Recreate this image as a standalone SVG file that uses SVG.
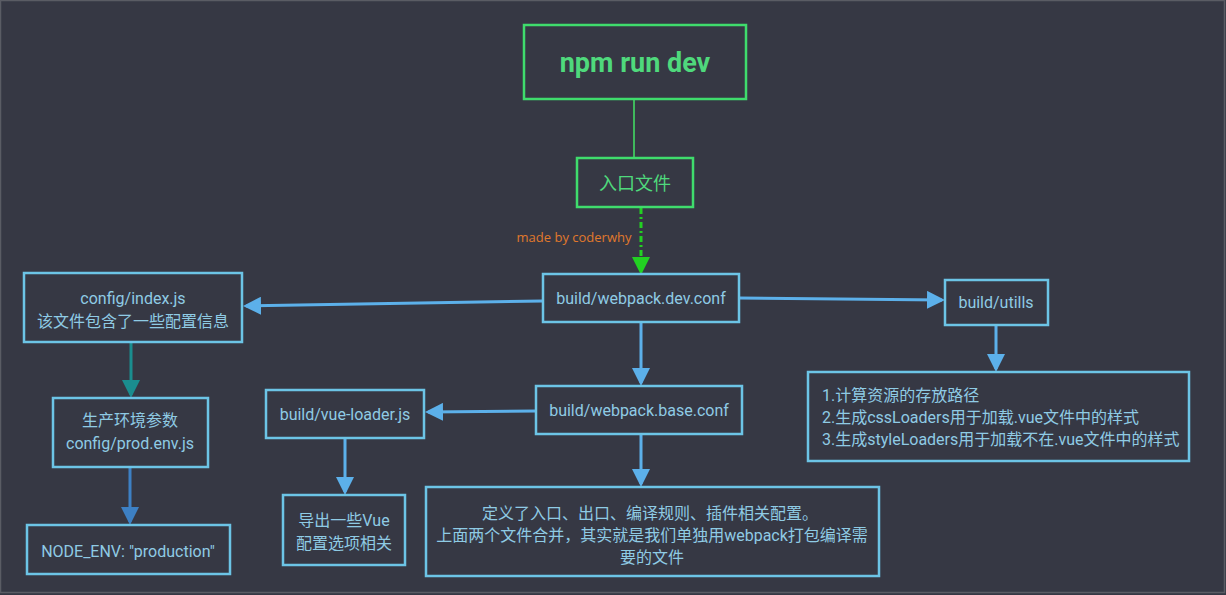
<svg xmlns="http://www.w3.org/2000/svg" width="1226" height="595" viewBox="0 0 1226 595">
<defs>
<style>
.box{fill:none;stroke:#6cc4e6;stroke-width:2.5}
.gbox{fill:none;stroke:#3fdc6c;stroke-width:2.5}
.t{font-family:Roboto,"Noto Sans CJK SC",sans-serif;font-size:16px;fill:#8fcbe4;text-anchor:middle}
.tl{font-family:Roboto,"Noto Sans CJK SC",sans-serif;font-size:16px;fill:#8fcbe4}
.a{fill:none;stroke:#5cb0ea;stroke-width:3}
</style>
<marker id="ah" markerWidth="6" markerHeight="6" refX="5" refY="3" orient="auto" markerUnits="strokeWidth">
<path d="M0,0 L6,3 L0,6 z" fill="#5cb0ea"/>
</marker>
<marker id="aht" markerWidth="6" markerHeight="6" refX="5" refY="3" orient="auto" markerUnits="strokeWidth">
<path d="M0,0 L6,3 L0,6 z" fill="#1a8d8f"/>
</marker>
<marker id="ahb" markerWidth="6" markerHeight="6" refX="5" refY="3" orient="auto" markerUnits="strokeWidth">
<path d="M0,0 L6,3 L0,6 z" fill="#3d80c4"/>
</marker>
<marker id="ahg" markerWidth="6" markerHeight="6" refX="5" refY="3" orient="auto" markerUnits="strokeWidth">
<path d="M0,0 L6,3 L0,6 z" fill="#22d022"/>
</marker>
</defs>
<rect x="0" y="0" width="1226" height="595" fill="#363844"/>
<rect x="0.5" y="0.5" width="1224" height="592" fill="none" stroke="#5a5c64" stroke-width="1.5"/>

<g id="connectors">
<line x1="634" y1="100" x2="634" y2="158" stroke="#3fb85c" stroke-width="2"/>
<line x1="641" y1="208" x2="641" y2="272" stroke="#22d022" stroke-width="3" stroke-dasharray="6,3,2,3" marker-end="url(#ahg)"/>
<line x1="543" y1="301" x2="246" y2="306" class="a" marker-end="url(#ah)"/>
<line x1="739" y1="298" x2="942" y2="300" class="a" marker-end="url(#ah)"/>
<line x1="996" y1="326" x2="996" y2="369" class="a" marker-end="url(#ah)"/>
<line x1="641" y1="323" x2="641" y2="383" class="a" marker-end="url(#ah)"/>
<line x1="536" y1="411" x2="428" y2="412" class="a" marker-end="url(#ah)"/>
<line x1="345" y1="439" x2="345" y2="492" class="a" marker-end="url(#ah)"/>
<line x1="641" y1="435" x2="641" y2="484" class="a" marker-end="url(#ah)"/>
<line x1="131" y1="343" x2="131" y2="395" stroke="#1a8d8f" stroke-width="3" fill="none" marker-end="url(#aht)"/>
<line x1="130" y1="468" x2="130" y2="522" stroke="#3d80c4" stroke-width="3" fill="none" marker-end="url(#ahb)"/>
</g>

<g id="npm">
<rect x="524" y="25" width="222" height="74" class="gbox" stroke-width="3"/>
<text x="635" y="72" font-family="Roboto,'Noto Sans',sans-serif" font-size="27" font-weight="bold" fill="#4fd97c" text-anchor="middle">npm run dev</text>
</g>
<g id="entry">
<rect x="577" y="158" width="116" height="49" class="gbox"/>
<text x="635" y="190" font-family="'Noto Sans CJK SC',sans-serif" font-size="18" fill="#4fd97c" text-anchor="middle">入口文件</text>
</g>
<g id="watermark">
<text x="574" y="242" font-family="'Open Sans',Roboto,sans-serif" font-size="13" fill="#e0782c" text-anchor="middle">made by coderwhy</text>
</g>
<g id="devconf">
<rect x="543" y="274" width="196" height="48" class="box"/>
<text x="641" y="304" class="t">build/webpack.dev.conf</text>
</g>
<g id="configindex">
<rect x="24" y="273" width="218" height="69" class="box"/>
<text x="133" y="304" class="t">config/index.js</text>
<text x="133" y="327" class="t">该文件包含了一些配置信息</text>
</g>
<g id="prodenv">
<rect x="53" y="398" width="155" height="69" class="box"/>
<text x="130" y="426" class="t">生产环境参数</text>
<text x="130" y="449" class="t">config/prod.env.js</text>
</g>
<g id="nodeenv">
<rect x="27" y="525" width="203" height="49" class="box"/>
<text x="128" y="557" class="t">NODE_ENV: "production"</text>
</g>
<g id="utills">
<rect x="945" y="280" width="103" height="45" class="box"/>
<text x="996" y="308" class="t">build/utills</text>
</g>
<g id="utilsdesc">
<rect x="808" y="372" width="381" height="89" class="box"/>
<text x="822" y="401" class="tl">1.计算资源的存放路径</text>
<text x="822" y="423" class="tl">2.生成cssLoaders用于加载.vue文件中的样式</text>
<text x="822" y="445" class="tl">3.生成styleLoaders用于加载不在.vue文件中的样式</text>
</g>
<g id="baseconf">
<rect x="536" y="386" width="206" height="48" class="box"/>
<text x="639" y="416" class="t">build/webpack.base.conf</text>
</g>
<g id="vueloader">
<rect x="266" y="390" width="158" height="48" class="box"/>
<text x="345" y="420" class="t">build/vue-loader.js</text>
</g>
<g id="vueexport">
<rect x="283" y="495" width="122" height="70" class="box"/>
<text x="344" y="526" class="t">导出一些Vue</text>
<text x="344" y="549" class="t">配置选项相关</text>
</g>
<g id="basedesc">
<rect x="426" y="487" width="453" height="89" class="box"/>
<text x="650" y="519" class="t">定义了入口、出口、编译规则、插件相关配置。</text>
<text x="652" y="541" class="t">上面两个文件合并，其实就是我们单独用webpack打包编译需</text>
<text x="652" y="563" class="t">要的文件</text>
</g>
</svg>
